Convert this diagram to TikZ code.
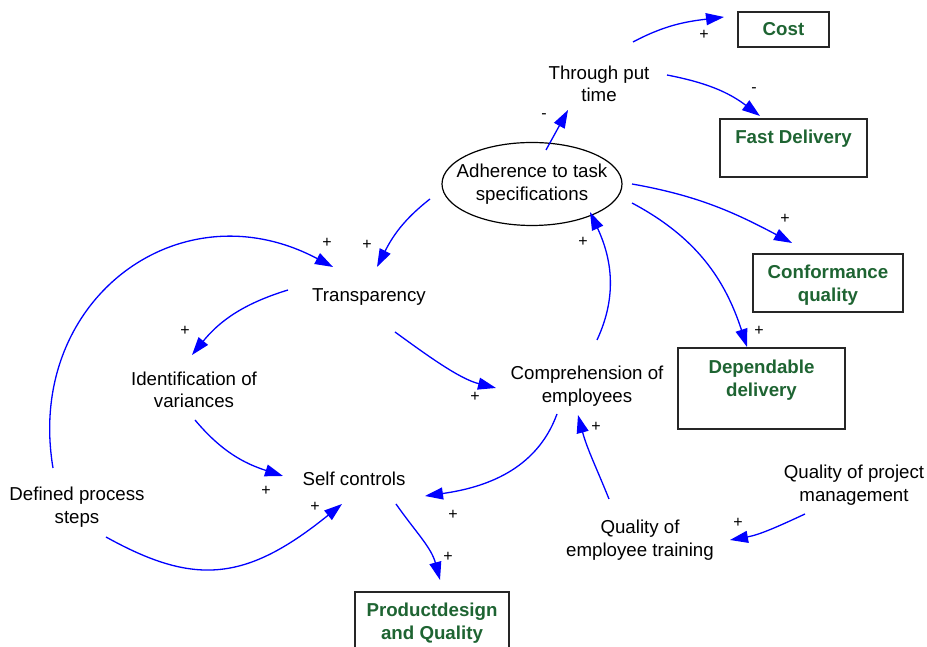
\documentclass[tikz,border=0pt]{standalone}
\usepackage{fontspec}
\setmainfont{Liberation Sans}
\usetikzlibrary{arrows.meta}
\definecolor{boxgreen}{RGB}{30,100,50}
\definecolor{linkblue}{RGB}{0,0,255}
\begin{document}
\begin{tikzpicture}[x=1pt,y=1pt,
  var/.style={align=center,font=\fontsize{18.7}{22.5}\selectfont,inner sep=2pt},
  goal/.style={rectangle,draw=black!85,line width=1.2pt,align=center,text=boxgreen,font=\fontsize{18.7}{22.5}\selectfont\bfseries},
  pol/.style={font=\fontsize{16}{18}\selectfont,inner sep=0pt},
  link/.style={linkblue,line width=1.3pt,-{Triangle[length=18pt,width=12pt]}}]
\clip (0,0) rectangle (927,647);
\node[var] (thru) at (599,563) {Through put\\time};
\node[var] (adh) at (532,463) {Adherence to task\\specifications};
\draw[line width=1.2pt] (adh.center) ellipse [x radius=90, y radius=41.5];
\node[var] (trans) at (369,350) {Transparency};
\node[var] (ident) at (194,257) {Identification of\\variances};
\node[var] (compr) at (587,261) {Comprehension of\\employees};
\node[var] (self) at (354,168) {Self controls};
\node[var] (steps) at (77,140) {Defined process\\steps};
\node[var] (train) at (640,107) {Quality of\\employee training};
\node[var] (proj) at (854,162) {Quality of project\\management};
\node[goal,minimum width=91pt,minimum height=35pt,text depth=1pt] (cost) at (783.5,617.5) {Cost};
\node[goal,minimum width=147pt,minimum height=58pt,text depth=21.9pt] (fast) at (793.5,499) {Fast Delivery};
\node[goal,minimum width=150pt,minimum height=58pt,text depth=0pt] (conf) at (828,364) {Conformance\\quality};
\node[goal,minimum width=167pt,minimum height=81pt,text depth=20.7pt] (dep) at (761.5,258.5) {Dependable\\delivery};
\node[goal,minimum width=154pt,minimum height=81pt,text depth=22.2pt] (prod) at (432,14.5) {Productdesign\\and Quality};

\draw[link] ([shift={(34,42)}]thru.center) to[out=28,in=187,distance=37pt] ([shift={(-59.5,12.5)}]cost.center);
\draw[link] ([shift={(68,9)}]thru.center) to[out=-11,in=143,distance=40pt] ([shift={(-33.5,32)}]fast.center);
\draw[link] ([shift={(14,34)}]adh.center) -- ([shift={(-31,-26)}]thru.center);
\draw[link] ([shift={(100,0)}]adh.center) to[out=-10,in=152,distance=66pt] ([shift={(-36,40)}]conf.center);
\draw[link] ([shift={(100,-19)}]adh.center) to[out=-28,in=108,distance=72pt] ([shift={(-14.5,41.5)}]dep.center);
\draw[link] ([shift={(-102,-15)}]adh.center) to[out=218,in=63,distance=34pt] ([shift={(8,30)}]trans.center);
\draw[link] ([shift={(-24,39)}]steps.center) to[out=99.5,in=152,out distance=170pt,in distance=174pt] ([shift={(-36,30)}]trans.center);
\draw[link] ([shift={(-81,7)}]trans.center) to[out=197,in=51,distance=45pt] ([shift={(-2,35)}]ident.center);
\draw[link] ([shift={(26,-35)}]trans.center) to[out=-36,in=166,distance=38pt] ([shift={(-91,-2)}]compr.center);
\draw[link] ([shift={(1,-30)}]ident.center) to[out=-50,in=162,distance=41pt] ([shift={(-71,3)}]self.center);
\draw[link] ([shift={(29,-30)}]steps.center) to[out=-29,in=219,out distance=100pt,in distance=125pt] ([shift={(-12,-25)}]self.center);
\draw[link] ([shift={(-30,-28)}]compr.center) to[out=-110,in=8,distance=60pt] ([shift={(71,-17)}]self.center);
\draw[link] ([shift={(42,-25)}]self.center) to[out=-55,in=105,distance=34pt] ([shift={(8,52.5)}]prod.center);
\draw[link] ([shift={(10,46)}]compr.center) to[out=65,in=-65,distance=50pt] ([shift={(58,-28)}]adh.center);
\draw[link] ([shift={(-31,41)}]train.center) to[out=112,in=-75,distance=35pt] ([shift={(-9,-29)}]compr.center);
\draw[link] ([shift={(-49,-29)}]proj.center) to[out=205,in=10,distance=30pt] ([shift={(90,0)}]train.center);

\node[pol] (s1) at (704,612) {+};
\node[pol] (s2) at (754,557) {-};
\node[pol] (s3) at (544,531) {-};
\node[pol] (s4) at (785,428) {+};
\node[pol] (s5) at (759,316) {+};
\node[pol] (s6) at (367,402) {+};
\node[pol] (s7) at (327,404) {+};
\node[pol] (s8) at (185,316) {+};
\node[pol] (s9) at (475,250) {+};
\node[pol] (s10) at (266,156) {+};
\node[pol] (s11) at (315,140) {+};
\node[pol] (s12) at (453,132) {+};
\node[pol] (s13) at (448,90) {+};
\node[pol] (s14) at (583,405) {+};
\node[pol] (s15) at (596,220) {+};
\node[pol] (s16) at (738,124) {+};
\end{tikzpicture}
\end{document}
